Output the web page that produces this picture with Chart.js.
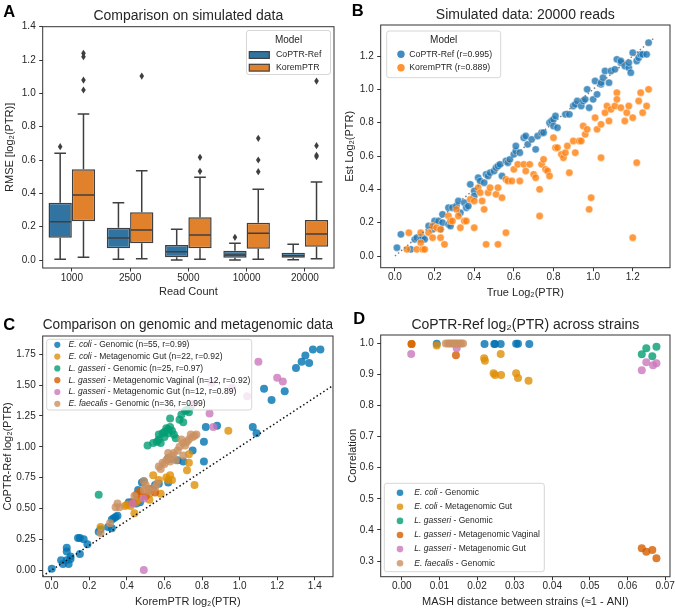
<!DOCTYPE html>
<html lang="en">
<head>
<meta charset="UTF-8">
<title>CoPTR-Ref vs KoremPTR</title>
<script src="https://cdn.jsdelivr.net/npm/chart.js@4"></script>
<style>
    body { margin: 0; background: #fff; }
    #fig { position: relative; width: 675px; height: 609px; }
    #fig canvas { position: absolute; }
</style>
</head>
<body>
<div id="fig">
    <canvas id="chartA" width="337" height="300" style="left:0;top:0"></canvas>
    <canvas id="chartB" width="338" height="300" style="left:337px;top:0"></canvas>
    <canvas id="chartC" width="337" height="309" style="left:0;top:300px"></canvas>
    <canvas id="chartD" width="338" height="309" style="left:337px;top:300px"></canvas>
</div>
<script>
// ---- A: RMSE per read count (box stats) ----
const readCounts = ['1000', '2500', '5000', '10000', '20000'];
const coptrLow  = [0.004, 0.004, 0.000, 0.000, 0.002];
const coptrQ1   = [0.134, 0.070, 0.016, 0.014, 0.014];
const coptrMed  = [0.230, 0.132, 0.050, 0.030, 0.026];
const coptrQ3   = [0.344, 0.194, 0.090, 0.056, 0.044];
const coptrHigh = [0.640, 0.344, 0.184, 0.100, 0.094];
const coptrOut  = [[0.68], [], [], [0.136], []];
const koremLow  = [0.016, 0.008, 0.004, 0.004, 0.008];
const koremQ1   = [0.232, 0.100, 0.070, 0.068, 0.080];
const koremMed  = [0.390, 0.180, 0.150, 0.160, 0.156];
const koremQ3   = [0.544, 0.286, 0.256, 0.224, 0.240];
const koremHigh = [0.876, 0.536, 0.496, 0.424, 0.468];
const koremOut  = [[1.24, 1.22, 1.08, 1.02], [1.104], [0.616, 0.532], [0.73, 0.60, 0.53], [1.074, 0.686, 0.628, 0.62]];
const rmseTicks = [0, 0.2, 0.4, 0.6, 0.8, 1.0, 1.2, 1.4];

// ---- B: simulated data, 20000 reads ----
const simTrueCoptr = [0.01,0.03,0.08,0.10,0.11,0.13,0.14,0.15,0.17,0.19, 0.20,0.22,0.23,0.24,0.24,0.27,0.28,0.27,0.29,0.31,
    0.32,0.33,0.35,0.36,0.37,0.38,0.40,0.40,0.42,0.43, 0.45,0.46,0.47,0.48,0.50,0.51,0.52,0.53,0.54,0.56,
    0.57,0.58,0.60,0.61,0.61,0.63,0.65,0.66,0.67,0.69, 0.71,0.72,0.74,0.75,0.78,0.79,0.80,0.81,0.80,0.82,
    0.86,0.88,0.90,0.91,0.92,0.94,0.95,0.96,0.97,0.98, 1.00,1.01,1.02,1.04,1.04,1.05,1.06,1.08,1.09,1.11,
    1.12,1.14,1.14,1.16,1.18,1.18,1.19,1.20,1.22,1.23, 1.24,1.25,1.27,1.28];
const simEstCoptr = [0.05,0.13,0.04,0.10,0.11,0.10,0.11,0.10,0.18,0.16, 0.21,0.21,0.16,0.20,0.25,0.19,0.18,0.29,0.29,0.30,
    0.33,0.26,0.32,0.29,0.30,0.43,0.39,0.36,0.47,0.45, 0.44,0.49,0.48,0.50,0.51,0.53,0.54,0.55,0.48,0.57,
    0.56,0.58,0.61,0.63,0.66,0.62,0.71,0.72,0.67,0.70, 0.64,0.72,0.74,0.74,0.80,0.81,0.82,0.84,0.78,0.77,
    0.85,0.85,0.90,0.91,0.93,0.90,0.93,0.94,1.00,0.89, 0.94,1.05,0.97,1.03,1.04,1.07,1.11,1.04,1.11,1.12,
    1.18,1.16,1.17,1.14,1.13,1.16,1.10,1.22,1.17,1.19, 1.21,1.21,1.21,1.28];
const simTrueKorem = [0.07,0.06,0.11,0.13,0.13,0.14,0.15,0.17,0.19,0.19, 0.21,0.23,0.23,0.25,0.27,0.28,0.29,0.31,0.32,0.33,
    0.35,0.36,0.38,0.40,0.40,0.42,0.43,0.44,0.45,0.46, 0.47,0.48,0.51,0.52,0.52,0.54,0.56,0.56,0.57,0.59,
    0.60,0.62,0.63,0.65,0.66,0.68,0.70,0.71,0.73,0.73, 0.74,0.75,0.76,0.77,0.78,0.80,0.81,0.82,0.84,0.85,
    0.86,0.87,0.88,0.90,0.91,0.93,0.94,0.95,0.96,0.97, 0.98,0.99,1.01,1.02,1.04,1.04,1.06,1.07,1.08,1.09,
    1.11,1.12,1.12,1.14,1.16,1.17,1.18,1.20,1.20,1.22, 1.23,1.24,1.25,1.27,1.28];
const simEstKorem = [0.14,0.04,0.04,0.14,0.08,0.04,0.04,0.14,0.18,0.11, 0.17,0.16,0.11,0.07,0.24,0.21,0.21,0.28,0.24,0.17,
    0.21,0.21,0.34,0.33,0.17,0.41,0.38,0.33,0.28,0.07, 0.38,0.41,0.37,0.07,0.41,0.35,0.46,0.14,0.45,0.45,
    0.52,0.55,0.45,0.55,0.51,0.55,0.49,0.47,0.24,0.40, 0.55,0.58,0.52,0.51,0.48,0.71,0.65,0.65,0.61,0.59,
    0.62,0.66,0.50,0.69,0.62,0.69,0.69,0.78,0.73,0.76, 0.28,0.35,0.83,0.76,0.59,0.79,0.86,0.90,0.81,0.88,
    0.90,0.98,0.94,0.89,0.81,0.86,0.90,0.83,0.11,0.56, 0.93,0.98,0.86,0.90,1.00];
const simTicks = [0, 0.2, 0.4, 0.6, 0.8, 1.0, 1.2];

// ---- C/D: series shared by both lower panels ----
const species = ['E. coli', 'E. coli', 'L. gasseri', 'L. gasseri', 'L. gasseri', 'E. faecalis'];
const sources = ['Genomic', 'Metagenomic Gut', 'Genomic', 'Metagenomic Vaginal', 'Metagenomic Gut', 'Genomic'];
const fitStats = ['(n=55, r=0.99)', '(n=22, r=0.92)', '(n=25, r=0.97)', '(n=12, r=0.92)', '(n=12, r=0.89)', '(n=36, r=0.99)'];

// C: KoremPTR (x) vs CoPTR-Ref (y)
const korEcoliGen = [0.00,0.05,0.06,0.08,0.08,0.08,0.09,0.10,0.10,0.14,0.15,0.15,0.17,0.19,0.25,0.26,0.30,0.32,0.32,0.33,
    0.34,0.35,0.41,0.43,0.45,0.47,0.46,0.48,0.49,0.52,0.55,0.57,0.62,0.62,0.63,0.67,0.70,0.75,0.81,0.81,
    0.82,0.88,1.07,1.09,1.13,1.17,1.24,1.30,1.33,1.35,1.37,1.39,1.43];
const copEcoliGen = [0.01,0.08,0.05,0.08,0.18,0.15,0.05,0.09,0.11,0.26,0.26,0.13,0.25,0.21,0.31,0.33,0.35,0.34,0.41,0.42,
    0.43,0.44,0.55,0.55,0.54,0.55,0.65,0.71,0.72,0.65,0.69,0.70,0.71,0.91,0.90,0.89,0.88,0.97,1.04,0.88,
    1.16,1.17,1.16,1.11,1.47,1.38,1.45,1.64,1.69,1.74,1.68,1.79,1.79];
const korEcoliGut = [0.26,0.39,0.40,0.42,0.44,0.45,0.46,0.48,0.52,0.52,0.54,0.57,0.58,0.61,0.62,0.63,0.64,0.72,0.73,0.73,0.76,0.94];
const copEcoliGut = [0.35,0.52,0.53,0.52,0.46,0.55,0.57,0.60,0.57,0.62,0.77,0.73,0.62,0.75,0.73,0.77,0.73,0.81,0.87,0.94,0.69,1.13];
const korGasGen = [0.25,0.51,0.54,0.56,0.57,0.57,0.58,0.59,0.60,0.61,0.62,0.63,0.63,0.64,0.65,0.66,0.68,0.69,0.70,0.71,0.72,0.73,0.74,0.62,0.60];
const copGasGen = [0.61,1.01,1.03,1.04,1.06,1.10,1.03,1.11,1.08,1.15,1.11,1.16,1.23,1.13,1.10,1.07,1.22,1.26,1.20,1.29,1.30,1.28,1.33,1.14,1.12];
const korGasVag = [0.43,0.45,0.47,0.50,0.52,0.55];
const copGasVag = [0.55,0.61,0.64,0.60,0.66,0.63];
const korGasGut = [0.49,0.49,0.43,0.84,0.86,1.04,1.10,1.20,1.23,0.96,0.75,0.85];
const copGasGut = [0.00,0.58,0.54,1.27,1.16,1.41,1.69,1.56,1.53,1.48,1.35,1.52];
const korFaecGen = [0.26,0.31,0.35,0.36,0.49,0.50,0.51,0.49,0.57,0.59,0.61,0.62,0.64,0.65,0.67,0.68,0.70,0.72,
    0.73,0.75,0.77,0.66,0.60,0.62,0.70,0.55,0.63,0.58,0.71,0.74,0.44,0.52,0.34,0.69,0.76,0.56];
const copFaecGen = [0.30,0.38,0.54,0.51,0.72,0.69,0.66,0.65,0.84,0.87,0.89,0.91,0.93,0.95,0.97,1.00,1.03,1.04,
    1.06,1.08,1.10,0.89,0.86,0.95,0.93,0.67,0.88,0.82,1.01,1.10,0.60,0.64,0.51,1.06,1.09,0.70];
const ptrXTicks = [0, 0.2, 0.4, 0.6, 0.8, 1.0, 1.2, 1.4];
const ptrYTicks = [0, 0.25, 0.5, 0.75, 1.0, 1.25, 1.5, 1.75];

// D: MASH distance (x) vs correlation (y)
const mashEcoliGen = [0.0093,0.0220,0.0246,0.0248,0.0263,0.0304,0.0309,0.0339];
const corrEcoliGen = [0.999,0.998,0.998,0.998,0.998,0.999,0.999,0.998];
const mashEcoliGut = [0.0026,0.0093,0.0219,0.0221,0.0244,0.0248,0.0263,0.0264,0.0304,0.0309,0.0337];
const corrEcoliGut = [0.998,0.993,0.952,0.944,0.904,0.898,0.966,0.898,0.904,0.889,0.880];
const mashGasGen = [0.0638,0.0650,0.0666,0.0677];
const corrGasGen = [0.965,0.984,0.959,0.989];
const mashGasVag = [0.0026,0.0144,0.0638,0.0650,0.0666,0.0677];
const corrGasVag = [0.998,0.962,0.341,0.330,0.335,0.309];
const mashGasGut = [0.0025,0.0146,0.0638,0.0650,0.0668,0.0677];
const corrGasGut = [0.966,0.984,0.914,0.939,0.930,0.936];
const mashFaecGen = [0.0117,0.0123,0.0128,0.0133,0.0138,0.0143,0.0148,0.0153,0.0158,0.0163];
const corrFaecGen = [1.0,1.0,1.0,1.0,1.0,1.0,1.0,1.0,1.0,1.0];
const mashTicks = [0, 0.01, 0.02, 0.03, 0.04, 0.05, 0.06, 0.07];
const corrTicks = [0.3, 0.4, 0.5, 0.6, 0.7, 0.8, 0.9, 1.0];

// ---- styling ----
const FONT = '"Liberation Sans", Arial, Helvetica, sans-serif';
const INK = '#262626';
const SPINE = '#333333';
const BOX_LINE = '#3f3f3f';
const BOX_COLORS = ['#3274a1', '#e1812c'];
const CB = ['#0173b2', '#de8f05', '#029e73', '#d55e00', '#cc78bc', '#ca9161'];

function rgba(hex, a) {
    const n = parseInt(hex.slice(1), 16);
    return `rgba(${n >> 16},${(n >> 8) & 255},${n & 255},${a})`;
}
function zip(xs, ys) { return xs.map((x, i) => ({x: x, y: ys[i]})); }

// fixes the size of an axis so the plot area lands where the figure has it
function sized(px) {
    return s => {
        if (s.isHorizontal()) s.height = px; else s.width = px;
        s.paddingLeft = s.paddingRight = s.paddingTop = s.paddingBottom = 0;
    };
}

function axis(o) {
    const ax = {
        type: o.type || 'linear',
        position: o.position,
        offset: !!o.offset,
        grid: {display: true, drawOnChartArea: false, drawTicks: true, tickLength: 3.5, color: SPINE, lineWidth: 1, offset: false},
        border: {display: false},
        ticks: {color: INK, font: {family: FONT, size: 10}, padding: o.pad, maxRotation: 0, autoSkip: false},
        title: {display: true, text: o.title, color: INK, font: {family: FONT, size: 11}, padding: o.titlePad},
        afterFit: sized(o.size)
    };
    if (o.min !== undefined) { ax.min = o.min; ax.max = o.max; }
    if (o.fmt) ax.ticks.callback = o.fmt;
    if (o.ticks) ax.afterBuildTicks = s => { s.ticks = o.ticks.map(v => ({value: v})); };
    return ax;
}

function titleOpts(text, top, bottom) {
    return {display: true, text: text, fullSize: false, color: INK,
        font: {family: FONT, size: 14, weight: 'normal'}, padding: {top: top, bottom: bottom}};
}

const frame = {
    id: 'frame',
    afterDatasetsDraw(chart) {
        const {ctx, chartArea: a} = chart;
        ctx.save();
        ctx.strokeStyle = SPINE;
        ctx.lineWidth = 1;
        ctx.strokeRect(a.left, a.top, a.right - a.left, a.bottom - a.top);
        ctx.restore();
    }
};

function panelLetter(txt, x, y) {
    return {
        id: 'panelLetter',
        afterDraw(chart) {
            const ctx = chart.ctx;
            ctx.save();
            ctx.font = `bold 16.5px ${FONT}`;
            ctx.fillStyle = '#000';
            ctx.textAlign = 'left';
            ctx.textBaseline = 'middle';
            ctx.fillText(txt, x, y);
            ctx.restore();
        }
    };
}

// legend with mixed italic / upright text, matplotlib look
function legendBox(cfg) {
    return {
        id: 'legendBox',
        afterDraw(chart) {
            const ctx = chart.ctx;
            ctx.save();
            ctx.beginPath();
            if (ctx.roundRect) ctx.roundRect(cfg.x, cfg.y, cfg.w, cfg.h, 2.5);
            else ctx.rect(cfg.x, cfg.y, cfg.w, cfg.h);
            ctx.fillStyle = 'rgba(255,255,255,0.8)';
            ctx.fill();
            ctx.strokeStyle = '#cccccc';
            ctx.lineWidth = 0.8;
            ctx.stroke();
            ctx.textBaseline = 'middle';
            if (cfg.title) {
                ctx.fillStyle = INK;
                ctx.font = `10px ${FONT}`;
                ctx.textAlign = 'center';
                ctx.fillText(cfg.title, cfg.x + cfg.w / 2, cfg.titleY);
            }
            ctx.textAlign = 'left';
            cfg.items.forEach((it, i) => {
                const y = cfg.rowY + i * cfg.rowGap;
                ctx.fillStyle = it.color;
                if (cfg.marker === 'rect') {
                    ctx.fillRect(cfg.markX - 10, y - 3.4, 20, 6.8);
                    ctx.strokeStyle = BOX_LINE;
                    ctx.lineWidth = 1.2;
                    ctx.strokeRect(cfg.markX - 10, y - 3.4, 20, 6.8);
                } else {
                    ctx.beginPath();
                    ctx.arc(cfg.markX, y, cfg.r, 0, Math.PI * 2);
                    ctx.fill();
                }
                ctx.fillStyle = INK;
                let x = cfg.textX;
                it.parts.forEach(([t, italic]) => {
                    ctx.font = `${italic ? 'italic ' : ''}${cfg.size}px ${FONT}`;
                    ctx.fillText(t, x, y);
                    x += ctx.measureText(t).width;
                });
            });
            ctx.restore();
        }
    };
}

// medians, whiskers, caps and fliers on top of the floating bars
const boxStats = [
    {lo: coptrLow, q1: coptrQ1, med: coptrMed, q3: coptrQ3, hi: coptrHigh, out: coptrOut},
    {lo: koremLow, q1: koremQ1, med: koremMed, q3: koremQ3, hi: koremHigh, out: koremOut}
];
const boxParts = {
    id: 'boxParts',
    afterDatasetsDraw(chart) {
        const ctx = chart.ctx, ys = chart.scales.y;
        const py = v => ys.getPixelForValue(v);
        ctx.save();
        ctx.strokeStyle = BOX_LINE;
        ctx.fillStyle = BOX_LINE;
        ctx.lineWidth = 1.5;
        boxStats.forEach((s, di) => {
            chart.getDatasetMeta(di).data.forEach((bar, i) => {
                const cx = bar.x, half = bar.width / 2 - 0.75, cap = bar.width / 4;
                ctx.beginPath();
                ctx.moveTo(cx - half, py(s.med[i])); ctx.lineTo(cx + half, py(s.med[i]));
                ctx.moveTo(cx, py(s.q1[i])); ctx.lineTo(cx, py(s.lo[i]));
                ctx.moveTo(cx, py(s.q3[i])); ctx.lineTo(cx, py(s.hi[i]));
                ctx.moveTo(cx - cap, py(s.lo[i])); ctx.lineTo(cx + cap, py(s.lo[i]));
                ctx.moveTo(cx - cap, py(s.hi[i])); ctx.lineTo(cx + cap, py(s.hi[i]));
                ctx.stroke();
                s.out[i].forEach(v => {
                    const y = py(v);
                    ctx.beginPath();
                    ctx.moveTo(cx, y - 3.6); ctx.lineTo(cx + 2.3, y);
                    ctx.lineTo(cx, y + 3.6); ctx.lineTo(cx - 2.3, y);
                    ctx.closePath();
                    ctx.fill();
                });
            });
        });
        ctx.restore();
    }
};

const base = {responsive: false, animation: false, devicePixelRatio: 1, events: []};
const fmt = d => v => Number(v).toFixed(d);

// ---------- A ----------
new Chart(document.getElementById('chartA'), {
    type: 'bar',
    data: {
        labels: readCounts,
        datasets: [
            {label: 'CoPTR-Ref', data: coptrQ1.map((v, i) => [v, coptrQ3[i]])},
            {label: 'KoremPTR', data: koremQ1.map((v, i) => [v, koremQ3[i]])}
        ].map((d, i) => Object.assign(d, {
            backgroundColor: BOX_COLORS[i], borderColor: BOX_LINE, borderWidth: 1.5,
            borderSkipped: false, categoryPercentage: 0.8, barPercentage: 1.0
        }))
    },
    options: Object.assign({}, base, {
        layout: {padding: {left: 0, right: 3, top: 0, bottom: 0}},
        plugins: {legend: {display: false}, tooltip: {enabled: false},
            title: titleOpts('Comparison on simulated data', 7.4, 2.5)},
        scales: {
            x: axis({type: 'category', position: 'bottom', offset: true, pad: 1, title: 'Read Count',
                titlePad: {top: 0, bottom: 1.1}, size: 32}),
            y: axis({position: 'left', min: -0.048, max: 1.4, ticks: rmseTicks, fmt: fmt(1), pad: 3.5,
                title: 'RMSE [log₂(PTR)]', titlePad: {top: 3.4, bottom: 0}, size: 42.7})
        }
    }),
    plugins: [boxParts, frame, panelLetter('A', 3.3, 12),
        legendBox({x: 246.5, y: 30.5, w: 84, h: 44, title: 'Model', titleY: 40.5, marker: 'rect',
            markX: 259.3, rowY: 55, rowGap: 12.7, textX: 276, size: 8.8,
            items: [{color: BOX_COLORS[0], parts: [['CoPTR-Ref', false]]},
                    {color: BOX_COLORS[1], parts: [['KoremPTR', false]]}]})]
});

// ---------- B ----------
const SIM_BLUE = '#1f77b4', SIM_ORANGE = '#ff7f0e';
new Chart(document.getElementById('chartB'), {
    type: 'scatter',
    data: {
        datasets: [
            {label: 'CoPTR-Ref (r=0.995)', data: zip(simTrueCoptr, simEstCoptr), order: 2,
                pointBackgroundColor: rgba(SIM_BLUE, 0.8)},
            {label: 'KoremPTR (r=0.889)', data: zip(simTrueKorem, simEstKorem), order: 1,
                pointBackgroundColor: rgba(SIM_ORANGE, 0.8)},
            {type: 'line', label: 'y = x', data: [{x: 0, y: 0}, {x: 1.31, y: 1.31}], order: 0,
                borderColor: '#808080', borderWidth: 1.5, borderDash: [1.5, 2.5], pointRadius: 0, fill: false}
        ].map(d => d.type ? d : Object.assign(d, {pointRadius: 3.7, pointBorderColor: 'rgba(255,255,255,0.85)', pointBorderWidth: 0.5}))
    },
    options: Object.assign({}, base, {
        layout: {padding: {left: 0, right: 5, top: 0, bottom: 0}},
        plugins: {legend: {display: false}, tooltip: {enabled: false},
            title: titleOpts('Simulated data: 20000 reads', 6.6, 1.6)},
        scales: {
            x: axis({position: 'bottom', min: -0.072, max: 1.388, ticks: simTicks, fmt: fmt(1), pad: 0.5,
                title: 'True Log₂(PTR)', titlePad: {top: 0, bottom: 0.7}, size: 32.3}),
            y: axis({position: 'left', min: -0.07, max: 1.386, ticks: simTicks, fmt: fmt(1), pad: 3.5,
                title: 'Est Log₂(PTR)', titlePad: {top: 6.4, bottom: 0}, size: 43.7})
        }
    }),
    plugins: [frame, panelLetter('B', 14.7, 11),
        legendBox({x: 49.7, y: 31, w: 114, h: 46.7, title: 'Model', titleY: 40.5, marker: 'dot', r: 3.7,
            markX: 64, rowY: 54.3, rowGap: 13.4, textX: 72.3, size: 8.7,
            items: [{color: rgba(SIM_BLUE, 0.85), parts: [['CoPTR-Ref (r=0.995)', false]]},
                    {color: rgba(SIM_ORANGE, 0.85), parts: [['KoremPTR (r=0.889)', false]]}]})]
});

// ---------- C ----------
const cSeries = [
    zip(korEcoliGen, copEcoliGen), zip(korEcoliGut, copEcoliGut), zip(korGasGen, copGasGen),
    zip(korGasVag, copGasVag), zip(korGasGut, copGasGut), zip(korFaecGen, copFaecGen)
];
new Chart(document.getElementById('chartC'), {
    type: 'scatter',
    data: {
        datasets: cSeries.map((pts, i) => ({
            label: species[i] + ' - ' + sources[i], data: pts, order: 10 - i,
            pointRadius: 4, pointBorderWidth: 0, pointBackgroundColor: rgba(CB[i], 0.8)
        })).concat([{type: 'line', label: 'y = x', data: [{x: -0.05, y: -0.05}, {x: 1.5, y: 1.5}], order: 0,
            borderColor: '#111111', borderWidth: 1.5, borderDash: [1.5, 2.5], pointRadius: 0, fill: false}])
    },
    options: Object.assign({}, base, {
        layout: {padding: {left: 0, right: 2.7, top: 0, bottom: 0}},
        plugins: {legend: {display: false}, tooltip: {enabled: false},
            title: titleOpts('Comparison on genomic and metagenomic data', 16.6, 2.6)},
        scales: {
            x: axis({position: 'bottom', min: -0.048, max: 1.497, ticks: ptrXTicks, fmt: fmt(1), pad: 0.5,
                title: 'KoremPTR log₂(PTR)', titlePad: {top: 0, bottom: 0.7}, size: 32.3}),
            y: axis({position: 'left', min: -0.054, max: 1.899, ticks: ptrYTicks, fmt: fmt(2), pad: 3.5,
                title: 'CoPTR-Ref log₂(PTR)', titlePad: {top: 0.9, bottom: 0}, size: 42.7})
        }
    }),
    plugins: [frame, panelLetter('C', 3.3, 25),
        legendBox({x: 46.7, y: 39.3, w: 205, h: 70.7, marker: 'dot', r: 3.1,
            markX: 57.3, rowY: 44.8, rowGap: 11.8, textX: 68.5, size: 8.5,
            items: species.map((s, i) => ({color: rgba(CB[i], 0.8),
                parts: [[s, true], [' - ' + sources[i] + ' ' + fitStats[i], false]]}))})]
});

// ---------- D ----------
const dSeries = [
    zip(mashEcoliGen, corrEcoliGen), zip(mashEcoliGut, corrEcoliGut), zip(mashGasGen, corrGasGen),
    zip(mashGasVag, corrGasVag), zip(mashGasGut, corrGasGut), zip(mashFaecGen, corrFaecGen)
];
new Chart(document.getElementById('chartD'), {
    type: 'scatter',
    data: {
        datasets: dSeries.map((pts, i) => ({
            label: species[i] + ' - ' + sources[i], data: pts, order: 10 - i,
            pointRadius: 4, pointBorderWidth: 0, pointBackgroundColor: rgba(CB[i], 0.8)
        }))
    },
    options: Object.assign({}, base, {
        layout: {padding: {left: 0, right: 5, top: 0, bottom: 0}},
        plugins: {legend: {display: false}, tooltip: {enabled: false},
            title: titleOpts('CoPTR-Ref log₂(PTR) across strains', 16.6, 1.6)},
        scales: {
            x: axis({position: 'bottom', min: -0.0056, max: 0.0713, ticks: mashTicks, fmt: fmt(2), pad: 0.5,
                title: 'MASH distance between strains (≈1 - ANI)', titlePad: {top: 0, bottom: 0.7}, size: 32.3}),
            y: axis({position: 'left', min: 0.2495, max: 1.027, ticks: corrTicks, fmt: fmt(1), pad: 3.5,
                title: 'Correlation', titlePad: {top: 9.7, bottom: 0}, size: 43.7})
        }
    }),
    plugins: [frame, panelLetter('D', 16.3, 19),
        legendBox({x: 47.3, y: 183.3, w: 160, h: 88.4, marker: 'dot', r: 3.3,
            markX: 63, rowY: 192.7, rowGap: 14.1, textX: 77.3, size: 8.5,
            items: species.map((s, i) => ({color: rgba(CB[i], 0.8),
                parts: [[s, true], [' - ' + sources[i], false]]}))})]
});
</script>
</body>
</html>
